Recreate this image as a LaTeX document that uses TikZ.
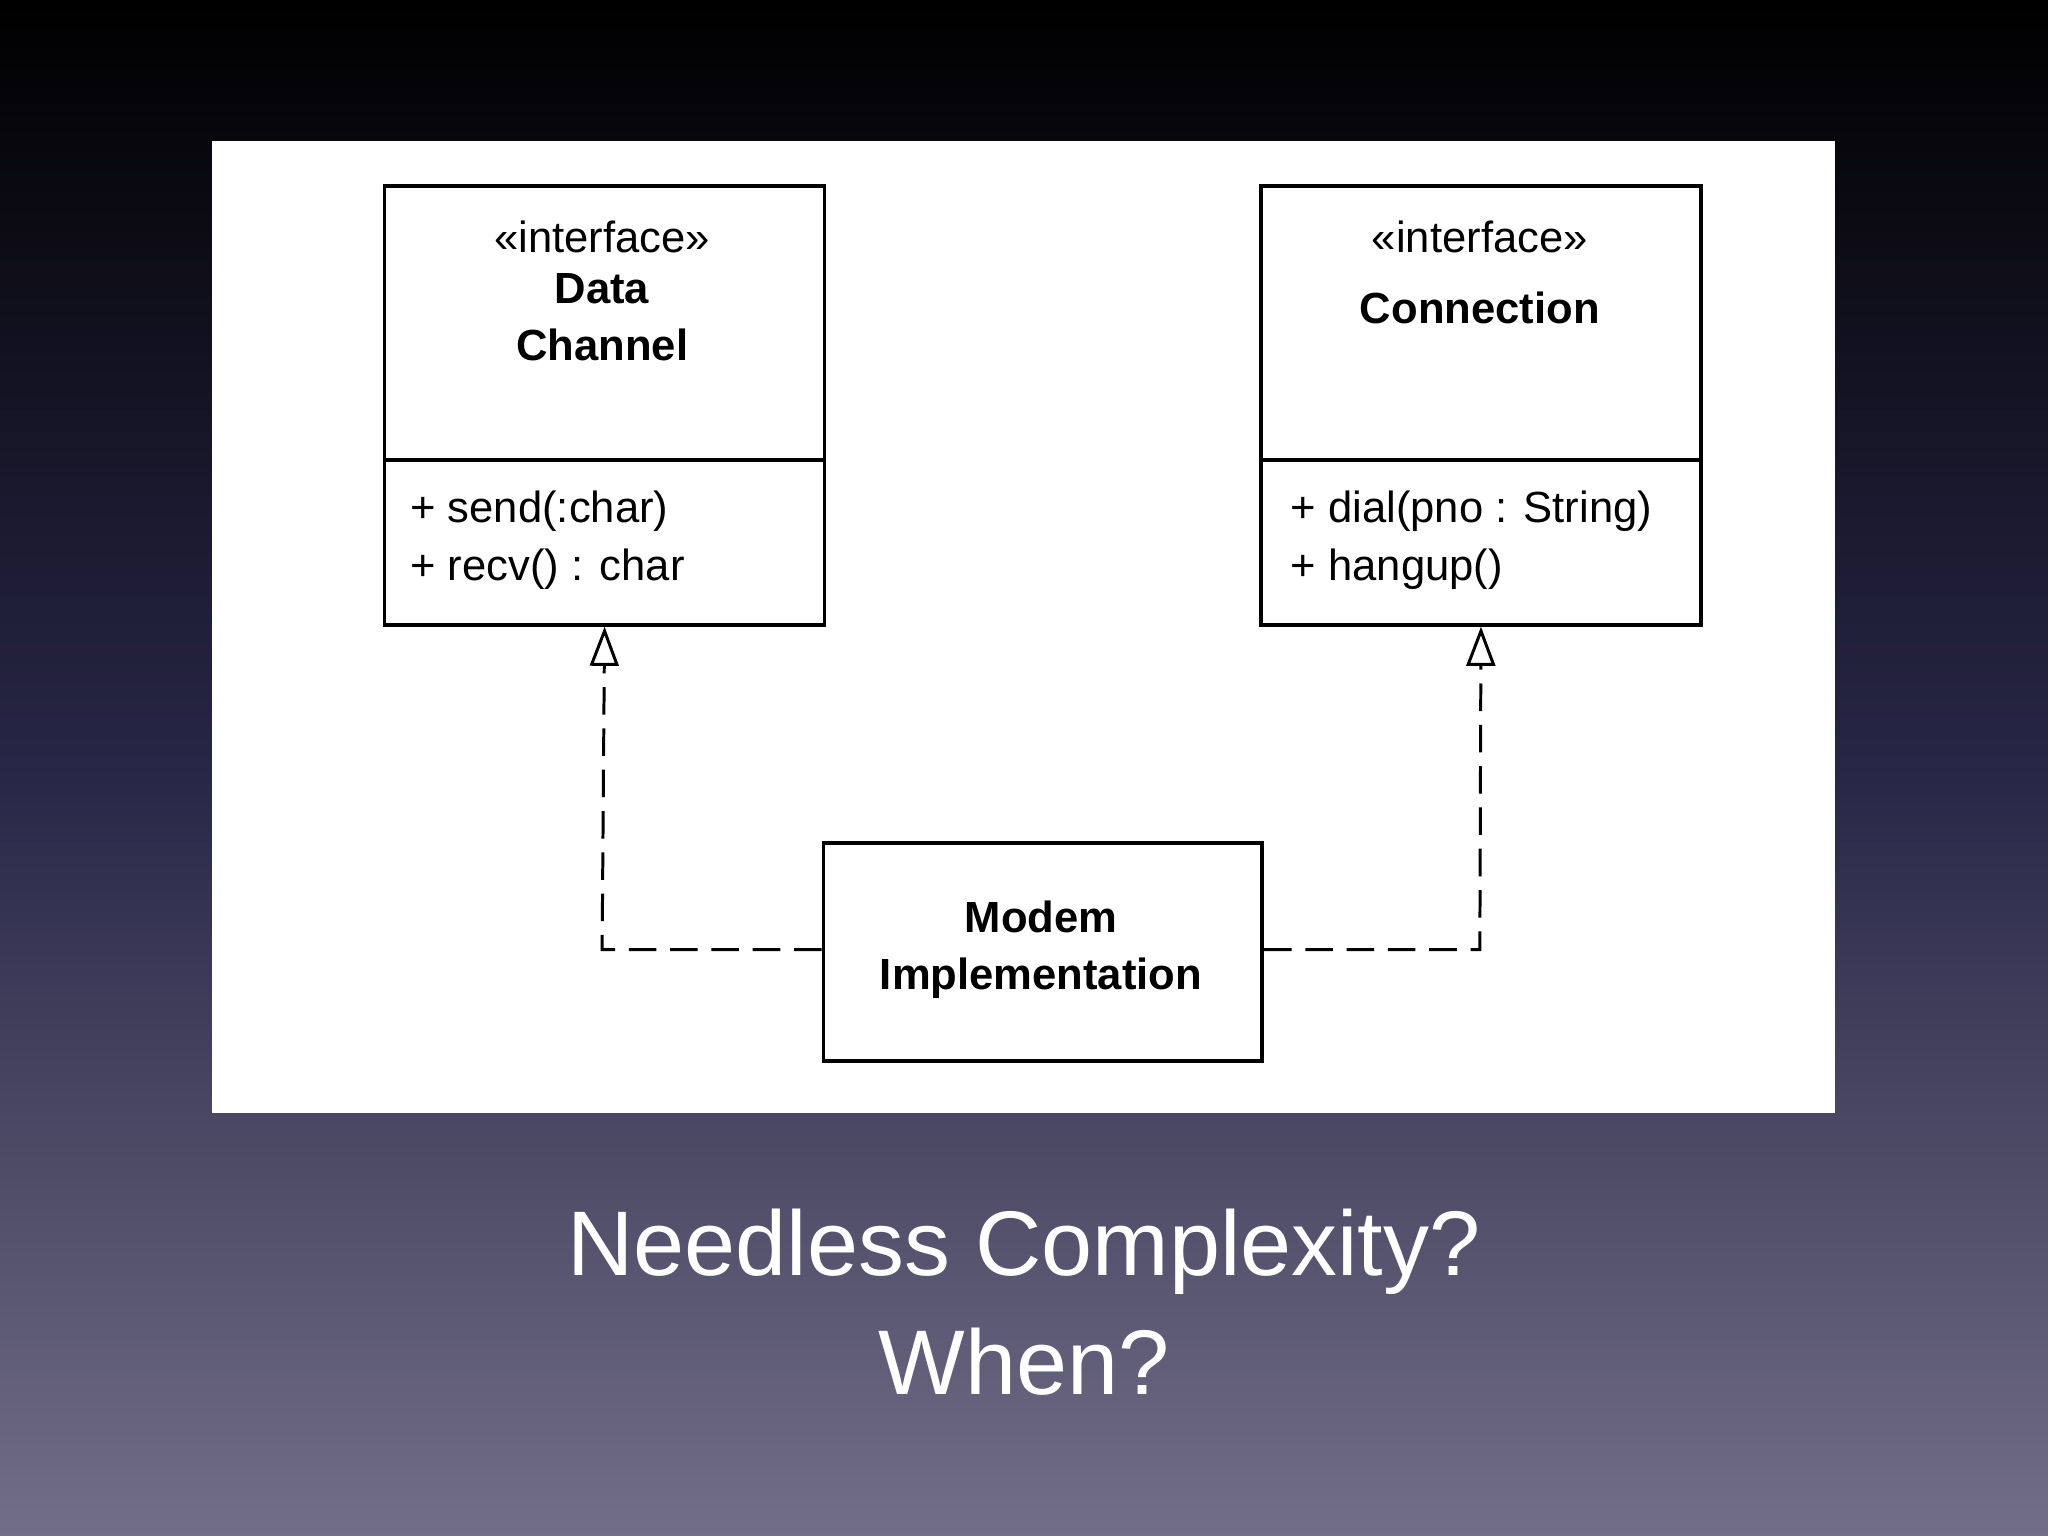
\documentclass[tikz,border=0pt]{standalone}
\usepackage{fontspec}
\setmainfont{Liberation Sans}
\usetikzlibrary{arrows.meta}
\begin{document}
\begin{tikzpicture}[x=0.02cm,y=-0.02cm,
  box/.style={draw=black,line width=1.6pt,fill=white,inner sep=0pt},
  real/.style={draw=black,line width=1.3pt,dash pattern=on 12pt off 6pt,-{Triangle[open,length=0.6cm,width=0.44cm,fill=white]}},
  txt/.style={font=\fontsize{19}{23}\selectfont,align=center,text=black}]
\shade[top color=black,bottom color={rgb,255:red,114;green,110;blue,135},middle color={rgb,255:red,40;green,38;blue,70}] (0,0) rectangle (1568,1176);
\useasboundingbox (0,0) rectangle (1568,1176);
\fill[white] (162,108) rectangle (1405,852);
% Data Channel
\node[box,minimum width=6.74cm,minimum height=4.2cm,anchor=north west] (dct) at (293,141) {};
\node[box,minimum width=6.74cm,minimum height=2.52cm,anchor=north west] (dcb) at (293,351) {};
\node[txt,anchor=north] (dcn) at (461,163) {«interface»\\[-1pt]\textbf{Data}\\[2pt]\textbf{Channel}};
\node[txt,align=left,anchor=north west] (dco) at (308,370) {+ send(:char)\\[2pt]+ recv() : char};
% Connection
\node[box,minimum width=6.74cm,minimum height=4.2cm,anchor=north west] (cot) at (964,141) {};
\node[box,minimum width=6.74cm,minimum height=2.52cm,anchor=north west] (cob) at (964,351) {};
\node[txt,anchor=north] (con) at (1133,163) {«interface»\\[8pt]\textbf{Connection}};
\node[txt,align=left,anchor=north west] (coo) at (982,370) {+ dial(pno : String)\\[2pt]+ hangup()};
% Modem
\node[box,minimum width=6.72cm,minimum height=3.34cm,anchor=north west] (mod) at (629,644) {};
\node[txt] (modt) at (797,727) {\textbf{Modem}\\[2pt]\textbf{Implementation}};
\coordinate (lc) at (461,727);
\coordinate (rc) at (1133,727);
\draw[real] (mod.west |- lc) -- (lc) -- (dcb.south);
\draw[real] (mod.east |- rc) -- (rc) -- (cob.south);
\node[text=white,font=\fontsize{40}{52}\selectfont,align=center] (title) at (784,997) {Needless Complexity?\\When?};
\end{tikzpicture}
\end{document}
